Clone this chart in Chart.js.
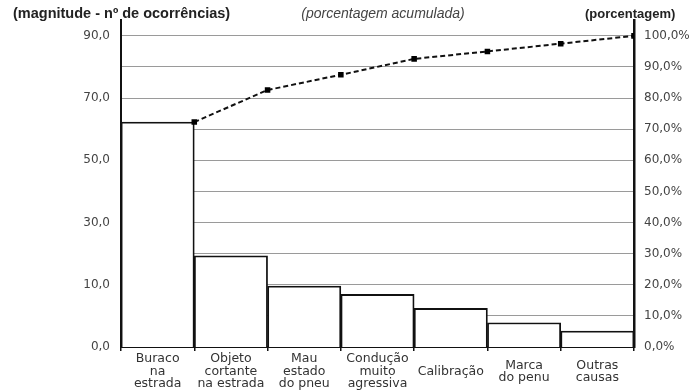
<!DOCTYPE html>
<html>
<head>
<meta charset="utf-8">
<script src="https://cdn.jsdelivr.net/npm/chart.js@4"></script>
<style>
  body { margin: 0; background: #fff; }
</style>
</head>
<body>
<canvas id="pareto" width="694" height="392"></canvas>
<script>
// causas (eixo x)
var categories = [
  ["Buraco", "na", "estrada"],
  ["Objeto", "cortante", "na estrada"],
  ["Mau", "estado", "do pneu"],
  ["Condução", "muito", "agressiva"],
  "Calibração",
  ["Marca", "do penu"],
  ["Outras", "causas"]
];
// altura das barras (na escala desenhada)
var occurrences = [72.3, 29.3, 19.6, 16.9, 12.4, 7.8, 5.1];
// porcentagem acumulada
var cumulative = [72.3, 82.6, 87.5, 92.6, 95.0, 97.5, 100];

var leftTickValues = [0, 20, 40, 60, 80, 100];
var leftTickLabels = ["0,0", "10,0", "30,0", "50,0", "70,0", "90,0"];
var rightTickValues = [0, 10, 20, 30, 40, 50, 60, 70, 80, 90, 100];

var titleLeft = "(magnitude - nº de ocorrências)";
var titleMiddle = "(porcentagem acumulada)";
var titleRight = "(porcentagem)";

// pontos da linha no canto direito de cada barra
var linePoints = cumulative.map(function (v, i) { return { x: i + 1, y: v }; });

var titles = {
  id: 'titles',
  afterDraw: function (chart) {
    var ctx = chart.ctx;
    ctx.save();
    ctx.fillStyle = '#222';
    ctx.textBaseline = 'middle';
    ctx.font = 'bold 14.5px "Liberation Sans", Arial, sans-serif';
    ctx.textAlign = 'left';
    ctx.fillText(titleLeft, 13, 14);
    ctx.font = 'bold 13px "Liberation Sans", Arial, sans-serif';
    ctx.fillText(titleRight, 585, 14);
    ctx.font = 'italic 14px "Liberation Sans", Arial, sans-serif';
    ctx.fillStyle = '#444';
    ctx.textAlign = 'center';
    ctx.fillText(titleMiddle, 383, 14);
    ctx.restore();
  }
};

var myChart = new Chart(document.getElementById("pareto"), {
  type: 'bar',
  data: {
    labels: categories,
    datasets: [
      {
        type: 'line',
        data: linePoints,
        xAxisID: 'xl',
        yAxisID: 'y2',
        borderColor: '#111',
        borderWidth: 2,
        borderDash: [5, 3],
        pointStyle: 'rect',
        pointRadius: 2.5,
        pointBackgroundColor: '#000',
        pointBorderColor: '#000',
        fill: false,
        tension: 0,
        order: 0
      },
      {
        type: 'bar',
        data: occurrences,
        xAxisID: 'x',
        yAxisID: 'y',
        backgroundColor: '#fff',
        borderColor: '#111',
        borderWidth: 1.8,
        barPercentage: 1,
        categoryPercentage: 1,
        grouped: false,
        order: 1
      }
    ]
  },
  options: {
    responsive: false,
    animation: false,
    layout: { padding: { top: 20 } },
    plugins: { legend: { display: false }, tooltip: { enabled: false } },
    scales: {
      x: {
        type: 'category',
        offset: true,
        grid: {
          offset: true,
          drawOnChartArea: false,
          drawTicks: true,
          tickLength: 4,
          color: '#111',
          lineWidth: 1.5
        },
        border: { display: true, color: '#111', width: 2 },
        ticks: {
          padding: 8,
          maxRotation: 0,
          autoSkip: false,
          crossAlign: 'center',
          color: '#333',
          font: { family: '"DejaVu Sans", sans-serif', size: 12.5, lineHeight: 1.0 }
        },
        afterFit: function (s) { s.height = 45; }
      },
      xl: {
        type: 'linear',
        display: false,
        offset: false,
        grid: { offset: false },
        min: 0,
        max: 7
      },
      y: {
        position: 'left',
        min: 0,
        max: 105.1,
        grid: { display: false, drawTicks: false },
        border: { display: true, color: '#111', width: 2 },
        afterBuildTicks: function (s) {
          s.ticks = leftTickValues.map(function (v) { return { value: v }; });
        },
        ticks: {
          padding: 11,
          color: '#444',
          font: { family: '"DejaVu Sans", sans-serif', size: 12 },
          callback: function (v) { return leftTickLabels[leftTickValues.indexOf(v)]; }
        },
        afterFit: function (s) { s.width = 121; }
      },
      y2: {
        position: 'right',
        min: 0,
        max: 105.1,
        grid: {
          drawOnChartArea: true,
          drawTicks: false,
          color: '#9a9a9a',
          lineWidth: 1
        },
        border: { display: true, color: '#111', width: 2.5 },
        afterBuildTicks: function (s) {
          s.ticks = rightTickValues.map(function (v) { return { value: v }; });
        },
        ticks: {
          padding: 10,
          color: '#444',
          font: { family: '"DejaVu Sans", sans-serif', size: 12 },
          callback: function (v) { return v.toFixed(1).replace('.', ',') + '%'; }
        },
        afterFit: function (s) { s.width = 60; }
      }
    }
  },
  plugins: [titles]
});
</script>
</body>
</html>
